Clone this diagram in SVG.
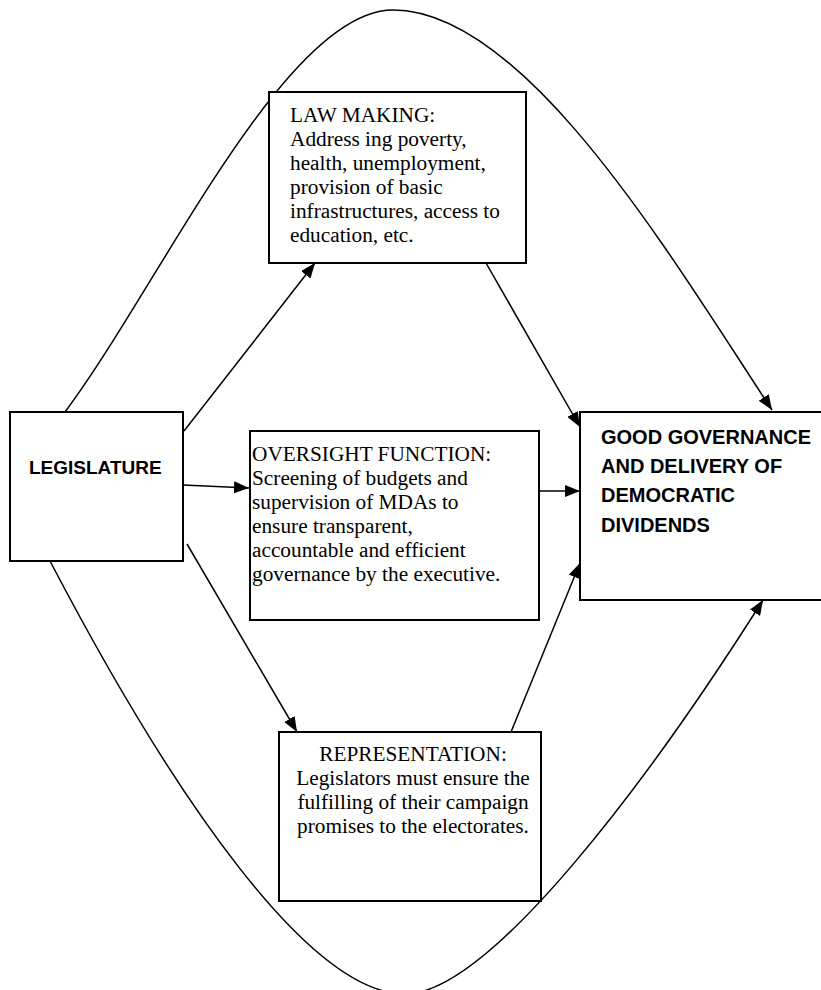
<svg xmlns="http://www.w3.org/2000/svg" width="821" height="990" viewBox="0 0 821 990">
<style>
.box{fill:#fff;stroke:#000;stroke-width:2}
.ser{font-family:"Liberation Serif","Times New Roman",serif;font-size:21.3px;fill:#000}
.bold{font-family:"Liberation Sans",Arial,sans-serif;font-weight:bold;font-size:19px;fill:#000}
.con{fill:none;stroke:#000;stroke-width:1.5}
</style>
<defs>
<marker id="ah" markerUnits="userSpaceOnUse" markerWidth="16" markerHeight="12" refX="15" refY="6" orient="auto">
<path d="M0,0 L15,6 L0,12 z" fill="#000"/>
</marker>
</defs>
<rect width="821" height="990" fill="#fff"/>
<g id="connectors">
<path class="con" d="M65,412 C160,285 285,10 393,10 C525,10 670,255 772,410" marker-end="url(#ah)"/>
<path class="con" d="M50,561 C175,800 310,994 405,994 C490,994 651,777 763,600" marker-end="url(#ah)"/>
<line class="con" x1="184" y1="431" x2="315" y2="263" marker-end="url(#ah)"/>
<line class="con" x1="183" y1="485" x2="249" y2="488" marker-end="url(#ah)"/>
<line class="con" x1="187" y1="544" x2="297" y2="732" marker-end="url(#ah)"/>
<line class="con" x1="486" y1="263" x2="580" y2="427" marker-end="url(#ah)"/>
<line class="con" x1="539" y1="491" x2="580" y2="491" marker-end="url(#ah)"/>
<line class="con" x1="511" y1="732" x2="580" y2="563" marker-end="url(#ah)"/>
</g>
<g id="legislature">
<rect class="box" x="10" y="412" width="173" height="149"/>
<text class="bold" x="29" y="474">LEGISLATURE</text>
</g>
<g id="law-making">
<rect class="box" x="269" y="92" width="257" height="171"/>
<text class="ser" x="290" y="122">LAW MAKING:</text>
<text class="ser" x="290" y="146">Address ing poverty,</text>
<text class="ser" x="290" y="170">health, unemployment,</text>
<text class="ser" x="290" y="194">provision of basic</text>
<text class="ser" x="290" y="218">infrastructures, access to</text>
<text class="ser" x="290" y="242">education, etc.</text>
</g>
<g id="oversight">
<rect class="box" x="250" y="431" width="289" height="189"/>
<text class="ser" x="252" y="461">OVERSIGHT FUNCTION:</text>
<text class="ser" x="252" y="485">Screening of budgets and</text>
<text class="ser" x="252" y="509">supervision of MDAs to</text>
<text class="ser" x="252" y="533">ensure transparent,</text>
<text class="ser" x="252" y="557">accountable and efficient</text>
<text class="ser" x="252" y="581">governance by the executive.</text>
</g>
<g id="representation">
<rect class="box" x="279" y="732" width="262" height="169"/>
<text class="ser" x="413" y="761" text-anchor="middle">REPRESENTATION:</text>
<text class="ser" x="413" y="785" text-anchor="middle">Legislators must ensure the</text>
<text class="ser" x="413" y="809" text-anchor="middle">fulfilling of their campaign</text>
<text class="ser" x="413" y="833" text-anchor="middle">promises to the electorates.</text>
</g>
<g id="good-governance">
<rect class="box" x="580" y="412" width="260" height="188"/>
<text class="bold" x="601" y="444" style="font-size:20px">GOOD GOVERNANCE</text>
<text class="bold" x="601" y="473" style="font-size:20px">AND DELIVERY OF</text>
<text class="bold" x="601" y="502" style="font-size:20px">DEMOCRATIC</text>
<text class="bold" x="601" y="532" style="font-size:20px">DIVIDENDS</text>
</g>
</svg>
